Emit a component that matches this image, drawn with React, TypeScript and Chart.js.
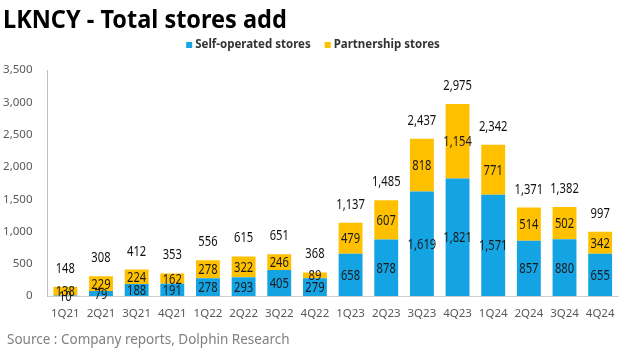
import React, { useEffect, useRef } from "react";
import { Chart, registerables } from "chart.js";

Chart.register(...registerables);

const categories = ["1Q21", "2Q21", "3Q21", "4Q21", "1Q22", "2Q22", "3Q22", "4Q22", "1Q23", "2Q23", "3Q23", "4Q23", "1Q24", "2Q24", "3Q24", "4Q24"];
const selfOperated = [10, 79, 188, 191, 278, 293, 405, 279, 658, 878, 1619, 1821, 1571, 857, 880, 655];
const partnership = [138, 229, 224, 162, 278, 322, 246, 89, 479, 607, 818, 1154, 771, 514, 502, 342];
const totals = [148, 308, 412, 353, 556, 615, 651, 368, 1137, 1485, 2437, 2975, 2342, 1371, 1382, 997];
const seriesNames = ["Self-operated stores", "Partnership stores"];
const seriesColors = ["#14A3E3", "#FFC000"];
const titleText = "LKNCY - Total stores add";
const sourceText = "Source : Company reports, Dolphin Research";

const FONT = "'Noto Sans', 'Open Sans', sans-serif";
const fmt = (v: number) => v.toLocaleString("en-US");

function drawText(ctx: CanvasRenderingContext2D, text: string, x: number, y: number, squeeze: number) {
  const w = ctx.measureText(text).width;
  ctx.fillText(text, x, y, w * squeeze);
}

const labelPlugin = {
  id: "barLabels",
  afterDatasetsDraw(chart: any) {
    const ctx = chart.ctx;
    ctx.save();
    ctx.font = `14px ${FONT}`;
    ctx.textAlign = "center";
    ctx.textBaseline = "middle";
    ctx.fillStyle = "#1a1a1a";
    chart.data.datasets.forEach((ds: any, di: number) => {
      const meta = chart.getDatasetMeta(di);
      meta.data.forEach((el: any, i: number) => {
        const p = el.getProps(["x", "y", "base"], true);
        drawText(ctx, fmt(ds.data[i]), p.x, (p.y + p.base) / 2 + 1, 0.8);
      });
    });
    const topMeta = chart.getDatasetMeta(1);
    ctx.fillStyle = "#111";
    topMeta.data.forEach((el: any, i: number) => {
      const p = el.getProps(["x", "y"], true);
      drawText(ctx, fmt(totals[i]), p.x, p.y - 18, 0.8);
    });
    ctx.restore();
  },
  afterDraw(chart: any) {
    const ctx = chart.ctx;
    ctx.save();
    ctx.textAlign = "left";
    ctx.textBaseline = "middle";
    // title
    ctx.fillStyle = "#000";
    ctx.font = `bold 25px ${FONT}`;
    drawText(ctx, titleText, 3, 21, 0.94);
    // legend
    ctx.font = `bold 11.5px ${FONT}`;
    const box = 6, gap = 3, between = 14;
    const widths = seriesNames.map((n) => ctx.measureText(n).width);
    const total = widths.reduce((a, b) => a + b, 0) + seriesNames.length * (box + gap) + between * (seriesNames.length - 1);
    let x = 313 - total / 2;
    const ly = 45;
    seriesNames.forEach((n, i) => {
      ctx.fillStyle = seriesColors[i];
      ctx.fillRect(x, ly - box / 2, box, box);
      x += box + gap;
      ctx.fillStyle = "#333";
      ctx.fillText(n, x, ly);
      x += widths[i] + between;
    });
    // source
    ctx.fillStyle = "#7f7f7f";
    ctx.font = `15px ${FONT}`;
    drawText(ctx, sourceText, 7, 340, 0.9);
    ctx.restore();
  },
};

export default function App() {
  const ref = useRef<HTMLCanvasElement>(null);
  useEffect(() => {
    if (!ref.current) return;
    const chart = new Chart(ref.current, {
      type: "bar",
      data: {
        labels: categories,
        datasets: seriesNames.map((name, i) => ({
          label: name,
          data: i === 0 ? selfOperated : partnership,
          backgroundColor: seriesColors[i],
          barPercentage: 0.67,
          categoryPercentage: 1,
        })),
      },
      options: {
        animation: false,
        responsive: false,
        layout: { padding: { top: 70, left: 3, right: 22, bottom: 31 } },
        plugins: {
          legend: { display: false },
          title: { display: false },
          tooltip: { enabled: false },
        },
        scales: {
          x: {
            stacked: true,
            grid: { display: false },
            border: { display: true, color: "#d0d0d0" },
            ticks: { color: "#595959", font: { family: FONT, size: 11.5 }, maxRotation: 0, padding: 3 },
          },
          y: {
            stacked: true,
            min: 0,
            max: 3500,
            grid: { display: false },
            border: { display: true, color: "#bfbfbf" },
            afterFit: (scale: any) => {
              scale.width = 44.5;
            },
            ticks: {
              stepSize: 500,
              color: "#595959",
              padding: 7,
              font: { family: FONT, size: 11.5 },
              callback: (v: any) => fmt(Number(v)),
            },
          },
        },
      },
      plugins: [labelPlugin],
    });
    return () => chart.destroy();
  }, []);
  return (
    <div style={{ position: "fixed", left: 0, top: 0, width: 640, height: 355, background: "#fff" }}>
      <canvas ref={ref} width={640} height={355} style={{ display: "block" }} />
    </div>
  );
}
